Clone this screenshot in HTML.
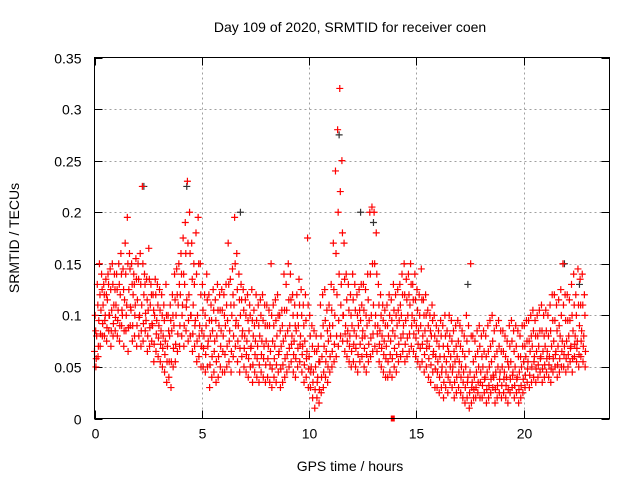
<!DOCTYPE html>
<html><head><meta charset="utf-8"><style>
body{margin:0;background:#fff}
svg{display:block;font-family:"Liberation Sans",sans-serif}
</style></head><body>
<svg id="chart" width="640" height="480" viewBox="0 0 640 480" xmlns="http://www.w3.org/2000/svg">
<text x="350" y="32" font-size="14" text-anchor="middle">Day 109 of 2020, SRMTID for receiver coen</text>
<text transform="translate(19,238) rotate(-90)" font-size="14" text-anchor="middle">SRMTID / TECUs</text>
<text x="350" y="471" font-size="14" text-anchor="middle">GPS time / hours</text>
<g id="grid"></g>
<g id="ticks"></g>
<g id="marks"></g>
<rect x="94.5" y="57.5" width="515" height="361" fill="none" stroke="#000" stroke-width="1"/>
</svg>
<script>
const xTicks=[0,5,10,15,20];
const yTicks=[0,0.05,0.1,0.15,0.2,0.25,0.3,0.35];
const yTickLabels=["0","0.05","0.1","0.15","0.2","0.25","0.3","0.35"];
const tStep=0.1;
const midVals=[.065,.08,.095,.105,.11,.10,.115,.10,.105,.11,
.11,.105,.12,.10,.115,.11,.125,.105,.12,.11,
.115,.10,.11,.12,.095,.105,.11,.09,.10,.095,
.09,.085,.08,.075,.07,.08,.085,.09,.10,.11,
.12,.11,.13,.115,.12,.10,.11,.095,.10,.09,
.085,.08,.09,.075,.08,.085,.075,.08,.09,.085,
.08,.09,.095,.085,.10,.11,.095,.09,.10,.085,
.08,.075,.085,.07,.08,.075,.07,.08,.075,.07,
.075,.07,.065,.075,.07,.08,.065,.07,.075,.08,
.085,.09,.08,.075,.085,.09,.08,.07,.075,.065,
.06,.05,.045,.05,.04,.055,.06,.07,.065,.075,
.08,.09,.10,.12,.14,.13,.10,.09,.085,.08,
.09,.085,.08,.09,.095,.085,.08,.09,.095,.10,
.11,.10,.09,.085,.08,.075,.07,.08,.075,.085,
.08,.09,.095,.10,.09,.095,.10,.11,.10,.095,
.09,.085,.09,.08,.085,.075,.07,.08,.065,.06,
.055,.06,.05,.06,.055,.065,.06,.05,.055,.06,
.055,.05,.045,.05,.04,.045,.035,.04,.045,.05,
.045,.05,.04,.045,.05,.055,.04,.045,.05,.045,
.05,.045,.04,.05,.055,.045,.05,.04,.045,.05,
.055,.06,.055,.065,.07,.06,.065,.07,.06,.065,
.07,.065,.06,.07,.075,.065,.07,.08,.075,.07,
.075,.08,.07,.085,.08,.075,.09,.085,.08];
const hiVals=[.10,.13,.15,.14,.13,.135,.14,.145,.15,.14,
.14,.15,.16,.145,.17,.195,.16,.15,.14,.155,
.15,.16,.225,.14,.135,.165,.13,.12,.135,.13,
.125,.12,.11,.13,.10,.11,.12,.14,.145,.15,
.16,.175,.19,.23,.20,.17,.15,.18,.195,.15,
.13,.12,.14,.12,.11,.125,.115,.13,.12,.125,
.12,.13,.17,.135,.145,.195,.16,.14,.13,.125,
.115,.12,.11,.125,.105,.12,.11,.115,.12,.11,
.11,.105,.15,.11,.115,.12,.10,.105,.14,.13,
.15,.14,.12,.11,.12,.135,.125,.11,.12,.175,
.10,.09,.085,.08,.07,.11,.12,.125,.105,.11,
.13,.17,.24,.28,.32,.25,.17,.14,.13,.12,
.14,.13,.12,.125,.13,.13,.125,.14,.20,.205,
.20,.18,.13,.12,.11,.105,.11,.12,.115,.13,
.12,.125,.13,.14,.15,.135,.14,.15,.13,.14,
.125,.12,.145,.115,.12,.105,.10,.11,.10,.09,
.085,.095,.09,.10,.085,.10,.095,.085,.09,.095,
.09,.085,.08,.10,.09,.15,.08,.075,.085,.09,
.08,.085,.08,.09,.095,.10,.085,.09,.095,.085,
.085,.08,.075,.09,.095,.085,.09,.085,.08,.09,
.09,.095,.095,.10,.105,.095,.10,.105,.11,.10,
.105,.10,.11,.12,.12,.11,.115,.125,.15,.12,
.12,.115,.13,.14,.12,.145,.135,.14,.12];
const loVals=[.05,.06,.07,.08,.08,.075,.085,.07,.08,.085,
.08,.075,.09,.07,.085,.065,.09,.075,.08,.07,
.08,.07,.075,.085,.065,.07,.075,.055,.065,.06,
.055,.05,.045,.035,.04,.03,.05,.055,.065,.07,
.08,.07,.085,.075,.08,.065,.07,.055,.06,.05,
.05,.045,.05,.03,.04,.045,.035,.04,.05,.045,
.045,.05,.055,.045,.06,.07,.055,.045,.06,.05,
.045,.04,.05,.035,.045,.04,.035,.045,.04,.035,
.04,.035,.03,.04,.035,.045,.03,.035,.04,.045,
.05,.055,.045,.04,.05,.055,.045,.035,.04,.03,
.03,.02,.01,.02,.015,.025,.03,.04,.035,.045,
.05,.055,.06,.07,.08,.075,.065,.06,.055,.05,
.055,.05,.045,.055,.06,.05,.045,.055,.06,.065,
.07,.065,.055,.05,.045,.04,.04,.045,.04,.05,
.045,.055,.06,.065,.055,.06,.065,.07,.065,.06,
.055,.05,.055,.045,.05,.04,.035,.045,.03,.03,
.025,.03,.02,.03,.025,.035,.03,.02,.025,.03,
.025,.02,.015,.02,.01,.015,.02,.02,.025,.02,
.02,.025,.015,.02,.025,.03,.015,.02,.025,.02,
.025,.02,.015,.025,.03,.02,.025,.015,.02,.025,
.03,.035,.03,.035,.04,.035,.04,.045,.035,.04,
.045,.04,.035,.045,.05,.04,.045,.05,.05,.045,
.05,.055,.045,.06,.055,.05,.06,.055,.05];
const upperMidVals=[.085,.11,.12,.125,.12,.12,.13,.125,.13,.125,
.125,.13,.14,.125,.14,.15,.145,.13,.13,.135,
.135,.13,.15,.13,.115,.135,.12,.105,.12,.11,
.105,.10,.095,.10,.085,.095,.10,.115,.12,.13,
.14,.14,.16,.17,.16,.135,.13,.14,.15,.12,
.105,.10,.115,.095,.095,.105,.095,.105,.105,.105,
.10,.11,.13,.11,.12,.15,.125,.115,.115,.105,
.10,.095,.10,.095,.09,.095,.09,.10,.095,.09,
.09,.09,.10,.09,.095,.10,.085,.09,.105,.105,
.115,.115,.10,.09,.10,.11,.10,.09,.095,.11,
.08,.07,.065,.065,.055,.08,.09,.095,.085,.09,
.105,.125,.16,.20,.22,.18,.135,.115,.105,.10,
.115,.105,.10,.105,.11,.105,.10,.115,.14,.15,
.15,.14,.11,.10,.095,.09,.09,.10,.095,.105,
.10,.105,.11,.12,.12,.115,.12,.13,.115,.115,
.105,.10,.115,.10,.10,.09,.085,.095,.08,.075,
.07,.08,.07,.08,.07,.08,.075,.065,.07,.075,
.07,.065,.06,.075,.065,.08,.055,.06,.065,.07,
.06,.065,.06,.065,.07,.075,.06,.065,.07,.065,
.065,.06,.055,.07,.075,.065,.07,.06,.06,.07,
.07,.075,.075,.08,.085,.08,.08,.085,.085,.08,
.085,.08,.085,.095,.095,.085,.09,.10,.11,.095,
.095,.095,.10,.11,.10,.11,.11,.11,.10];
const lowerMidVals=[.058,.07,.082,.092,.095,.088,.10,.085,.092,.098,
.095,.09,.105,.085,.10,.088,.108,.09,.10,.09,
.098,.085,.092,.102,.08,.088,.092,.072,.082,.078,
.072,.068,.062,.055,.055,.055,.068,.072,.082,.09,
.10,.09,.108,.095,.10,.082,.09,.075,.08,.07,
.068,.062,.07,.052,.06,.065,.055,.06,.07,.065,
.062,.07,.075,.065,.08,.09,.075,.068,.08,.068,
.062,.058,.068,.052,.062,.058,.052,.062,.058,.052,
.058,.052,.048,.058,.052,.062,.048,.052,.058,.062,
.068,.072,.062,.058,.068,.072,.062,.052,.058,.048,
.045,.035,.028,.035,.028,.04,.045,.055,.05,.06,
.065,.072,.08,.095,.11,.10,.082,.075,.07,.065,
.072,.068,.062,.072,.078,.068,.062,.072,.078,.082,
.09,.082,.072,.068,.062,.058,.055,.062,.058,.068,
.062,.072,.078,.082,.072,.078,.082,.09,.082,.078,
.072,.068,.072,.062,.068,.058,.052,.062,.048,.045,
.04,.045,.035,.045,.04,.05,.045,.035,.04,.045,
.04,.035,.03,.035,.025,.03,.028,.03,.035,.035,
.032,.038,.028,.032,.038,.042,.028,.032,.038,.032,
.038,.032,.028,.038,.042,.032,.038,.028,.032,.038,
.042,.048,.042,.05,.055,.048,.052,.058,.048,.052,
.058,.052,.048,.058,.062,.052,.058,.065,.062,.058,
.062,.068,.058,.072,.068,.062,.075,.07,.065];
const darkTimes=[2.3,4.3,6.8,11.4,12.4,13.0,17.4,21.9,22.6];
const darkVals=[.225,.225,.2,.275,.2,.19,.13,.15,.13];
const xMin=0,xMax=24,yMin=0,yMax=0.35;
const L=94.5,R=609.5,T=57.5,B=418.5;
const X=v=>L+(v-xMin)/(xMax-xMin)*(R-L);
const Y=v=>B-(v-yMin)/(yMax-yMin)*(B-T);
const NS="http://www.w3.org/2000/svg";
function mk(tag,attrs,parent){const e=document.createElementNS(NS,tag);for(const k in attrs)e.setAttribute(k,attrs[k]);parent.appendChild(e);return e;}
const grid=document.getElementById('grid'),ticks=document.getElementById('ticks'),marks=document.getElementById('marks');
yTicks.forEach((v,i)=>{
  const y=Math.round(Y(v))+0.5;
  if(i>0&&i<yTicks.length-1){const g=mk('line',{x1:L,x2:R,y1:y,y2:y,stroke:'#a0a0a0','stroke-dasharray':'2,3'},grid);
  
  }
  mk('line',{x1:L,x2:L+8,y1:y,y2:y,stroke:'#000'},ticks);
  mk('line',{x1:R-8,x2:R,y1:y,y2:y,stroke:'#000'},ticks);
  const t=mk('text',{x:L-13,y:y+5,'font-size':14,'text-anchor':'end'},ticks);t.textContent=yTickLabels[i];
  
  
});
xTicks.forEach(v=>{
  const x=Math.round(X(v))+0.5;
  if(v>0){const g=mk('line',{x1:x,x2:x,y1:T,y2:B,stroke:'#a0a0a0','stroke-dasharray':'2,3'},grid);
  
  }
  mk('line',{x1:x,x2:x,y1:B,y2:B-8,stroke:'#000'},ticks);
  mk('line',{x1:x,x2:x,y1:T,y2:T+8,stroke:'#000'},ticks);
  const t=mk('text',{x:x,y:B+20,'font-size':14,'text-anchor':'middle'},ticks);t.textContent=String(v);
  
  
});
function plus(t,v,col,name){
  const x=X(t),y=Y(v);
  const p=mk('path',{d:`M${x-3.5},${y}h7M${x},${y-3.5}v7`,stroke:col,'stroke-width':1.2,fill:'none'},marks);
  
  
}
darkTimes.forEach((t,i)=>plus(t,darkVals[i],'#333','dark-point'));
midVals.forEach((v,i)=>plus(i*tStep,v,'#f00','srmtid-point'));
hiVals.forEach((v,i)=>plus(i*tStep+0.03,v,'#f00','srmtid-point'));
upperMidVals.forEach((v,i)=>plus(i*tStep+0.055,v,'#f00','srmtid-point'));
lowerMidVals.forEach((v,i)=>plus(i*tStep+0.08,v,'#f00','srmtid-point'));
loVals.forEach((v,i)=>plus(i*tStep+0.065,v,'#f00','srmtid-point'));
const m=mk('rect',{x:X(13.9)-2,y:B-3,width:4,height:6,fill:'#f00'},marks);


</script>
</body></html>
